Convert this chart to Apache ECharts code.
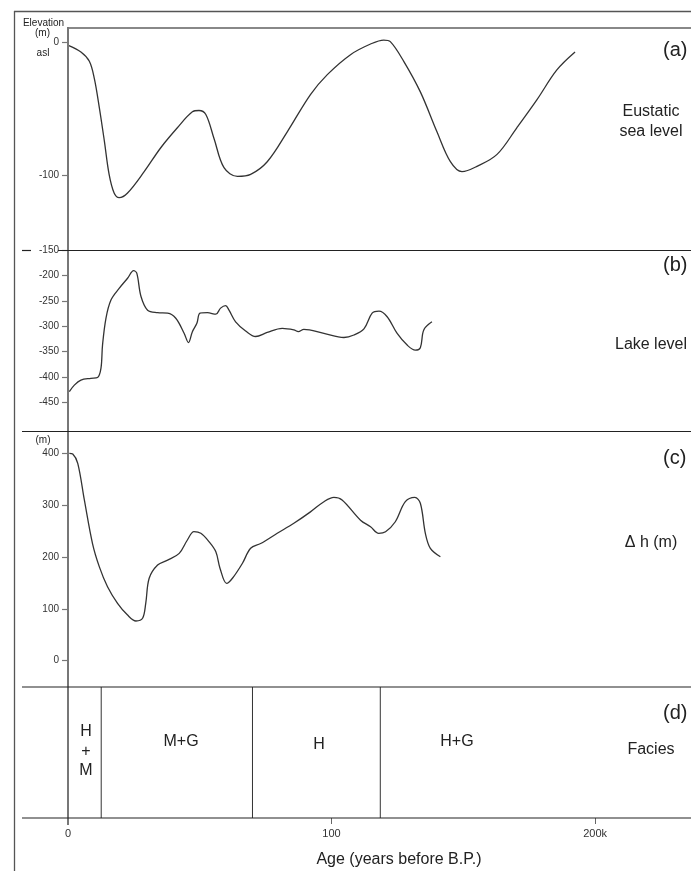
<!DOCTYPE html>
<html>
<head>
<meta charset="utf-8">
<script src="https://cdn.jsdelivr.net/npm/echarts@6/dist/echarts.min.js"></script>
<style>
html,body{margin:0;padding:0;background:#fff;}
#c{width:691px;height:871px;}
</style>
</head>
<body>
<div id="c"></div>
<script>
// ---- Data (age in thousand years before present) ----
const seaAge = [0.1, 4.9, 8.1, 10, 11.9, 13.8, 15.6, 17.5, 19.4, 22.6, 28.9, 35.2, 41.5, 47.2, 49.7, 52.3, 55.4, 59.2, 64.3, 69.3, 75.6, 83.2, 92, 98.4, 107.2, 114.8, 119.8, 122.3, 127.4, 133.7, 140, 145.1, 149.5, 155.2, 162.8, 170.3, 177.9, 185.5, 192.4];
const seaLevel = [-2, -7, -14, -27, -49, -74, -99, -113, -116.5, -113, -97, -79, -64, -52, -51, -54, -72, -94, -100.5, -99, -89.5, -67, -39, -24, -9, -1, 2, 0.8, -14, -37, -67, -89.5, -97, -93, -84, -64, -43, -20.5, -7];

const lakeAge = [0.5, 2.4, 4.9, 8.7, 11.2, 12.5, 13.1, 14.4, 16.3, 19.4, 22.6, 24.9, 26.1, 27.7, 30.2, 34, 37.8, 40.9, 44.1, 45.7, 47.2, 48.9, 50.1, 52.9, 56.1, 57.9, 59.8, 61.1, 63.6, 67.4, 71.2, 75.6, 81.3, 85.7, 87.4, 89.5, 97.1, 104.7, 108.5, 112.3, 115.4, 118, 121.1, 124.9, 128.7, 131.8, 133.7, 135, 138.1];
const lakeLevel = [-429, -416, -406, -402.6, -401, -383, -337, -284, -248, -225, -205, -190, -195, -241, -268, -273, -274, -284, -314, -332, -310.5, -294, -274, -273, -276, -264, -259, -268, -291, -309, -320, -312, -304, -307, -310.5, -306, -314, -322, -317, -305, -274, -270, -281, -314, -337, -347, -342, -307, -291];

const dhAge = [0.5, 1.8, 3.7, 6.2, 9.3, 11.9, 15, 18.8, 22.6, 25.8, 28.3, 29.5, 30.8, 34, 37.8, 42.2, 45.3, 47.8, 50.4, 53.5, 56.1, 57.7, 60.2, 62.4, 66.2, 69.3, 73.1, 79.4, 85.7, 92, 97.1, 100.9, 104, 111, 114.8, 117.9, 120.5, 124.2, 128, 131.6, 133.7, 135.6, 137.5, 141.3];
const dhValue = [400, 398.6, 380.7, 310, 226, 181, 142.7, 110.7, 88, 76.6, 81.8, 110.7, 159, 184.6, 194, 207, 232.8, 248.8, 245.7, 229.5, 210, 178, 149, 159, 188, 216.8, 226, 245.7, 265, 287, 306.7, 315, 310, 271, 258.4, 245.7, 248.8, 268, 306.7, 315, 303.6, 245.7, 216.8, 200.6];

const faciesBounds = [12.6, 70, 118.5];
const faciesNames = ['H\n+\nM', 'M+G', 'H', 'H+G'];
const faciesLabelAge = [6.8, 42.9, 95.3, 147.6];

const seaTicks = [0, -100];
const lakeTicks = [-150, -200, -250, -300, -350, -400, -450];
const dhTicks = [0, 100, 200, 300, 400];
const ageTicks = [0, 100, 200];
const ageTickLabels = ['0', '100', '200k'];

// ---- Chart ----
const FONT = "'Liberation Sans', Arial, sans-serif";
const chart = echarts.init(document.getElementById('c'), null, {renderer: 'canvas'});

const zip = (a, b) => a.map((v, i) => [v, b[i]]);

const L = 68, XMAX = 236.4;
const grids = [
  {left: L, right: 0, top: 28, height: 222},
  {left: L, right: 0, top: 250, height: 182},
  {left: L, right: 0, top: 432, height: 255},
  {left: L, right: 0, top: 687, height: 131}
];

function xAx(i, show) {
  return {
    type: 'value', gridIndex: i, min: 0, max: XMAX, show: show,
    splitLine: {show: false},
    axisLine: {show: false},
    axisTick: {show: show, customValues: ageTicks, length: 6, lineStyle: {color: '#666', width: 1}},
    axisLabel: {show: show, customValues: ageTicks, margin: 10, fontSize: 11, color: '#333', fontFamily: FONT,
      formatter: v => ageTickLabels[ageTicks.indexOf(v)] || ''}
  };
}
function yAx(i, min, max, ticks) {
  return {
    type: 'value', gridIndex: i, min: min, max: max,
    splitLine: {show: false},
    axisLine: {show: false},
    axisTick: {show: !!ticks, customValues: ticks || [], length: 6, lineStyle: {color: '#777', width: 1.2}},
    axisLabel: {show: !!ticks, customValues: ticks || [], margin: 9, fontSize: 10, color: '#333', fontFamily: FONT}
  };
}

const curveStyle = {color: '#333', width: 1.3};

function txt(text, x, y, size, align, extra) {
  return Object.assign({
    type: 'text', z: 50,
    style: {text: text, x: x, y: y, font: size + 'px ' + FONT, fill: '#222',
      align: align || 'center', verticalAlign: 'middle',
      textAlign: align || 'center', textVerticalAlign: 'middle'}
  }, extra || {});
}
function ln(x1, y1, x2, y2, color, w) {
  return {type: 'line', z: 40, silent: true,
    shape: {x1: x1, y1: y1, x2: x2, y2: y2},
    style: {stroke: color, lineWidth: w}};
}

const option = {
  backgroundColor: '#fff',
  animation: false,
  grid: grids,
  xAxis: [xAx(0, false), xAx(1, false), xAx(2, false), xAx(3, true)],
  yAxis: [
    yAx(0, -155.9, 11.05, seaTicks),
    yAx(1, -508.6, -149.2, lakeTicks),
    yAx(2, -50.7, 441.1, dhTicks),
    yAx(3, 0, 1, null)
  ],
  series: [
    {type: 'line', xAxisIndex: 0, yAxisIndex: 0, data: zip(seaAge, seaLevel), smooth: 0.35, showSymbol: false, lineStyle: curveStyle},
    {type: 'line', xAxisIndex: 1, yAxisIndex: 1, data: zip(lakeAge, lakeLevel), smooth: 0.35, showSymbol: false, lineStyle: curveStyle},
    {type: 'line', xAxisIndex: 2, yAxisIndex: 2, data: zip(dhAge, dhValue), smooth: 0.35, showSymbol: false, lineStyle: curveStyle},
    {
      type: 'custom', xAxisIndex: 3, yAxisIndex: 3,
      data: faciesBounds.map(v => [v]),
      renderItem: (params, api) => {
        const p0 = api.coord([api.value(0), 0]);
        const p1 = api.coord([api.value(0), 1]);
        return {type: 'line', shape: {x1: p0[0], y1: p0[1], x2: p1[0], y2: p1[1]},
          style: {stroke: '#333', lineWidth: 1}};
      }
    },
    {
      type: 'custom', xAxisIndex: 3, yAxisIndex: 3,
      data: faciesLabelAge.map((a, i) => [a, i]),
      renderItem: (params, api) => {
        const i = api.value(1);
        const p = api.coord([api.value(0), i === 0 ? 0.51 : (i === 2 ? 0.557 : 0.58)]);
        return {type: 'text', x: p[0], y: p[1],
          style: {text: faciesNames[i], font: '16px ' + FONT, fill: '#222',
            align: 'center', verticalAlign: 'middle', lineHeight: 19.5}};
      }
    }
  ],
  graphic: [
    // outer frame
    ln(14.5, 11, 14.5, 871, '#555', 1.3),
    ln(14, 11.5, 691, 11.5, '#555', 1.3),
    // inner top line and vertical axis
    ln(68, 28, 691, 28, '#888', 2),
    ln(68, 27, 68, 825, '#777', 2),
    // panel separators
    ln(22, 250.5, 31, 250.5, '#222', 1.2),
    ln(58, 250.5, 691, 250.5, '#222', 1.2),
    ln(22, 431.5, 691, 431.5, '#222', 1.2),
    ln(22, 687, 691, 687, '#222', 1.2),
    ln(22, 818, 691, 818, '#222', 1.2),
    // left labels
    txt('Elevation', 43.5, 23, 10),
    txt('(m)', 42.5, 33, 10),
    txt('asl', 43, 53, 10),
    txt('(m)', 43, 440, 10),
    // panel tags
    txt('(a)', 663, 50, 20, 'left'),
    txt('(b)', 663, 265, 20, 'left'),
    txt('(c)', 663, 458, 20, 'left'),
    txt('(d)', 663, 713, 20, 'left'),
    // right titles
    txt('Eustatic', 651, 112, 16),
    txt('sea level', 651, 132, 16),
    txt('Lake level', 651, 345, 16),
    txt('\u0394 h (m)', 651, 543, 16),
    txt('Facies', 651, 750, 16),
    // x axis title
    txt('Age (years before B.P.)', 399, 860, 16)
  ]
};
chart.setOption(option);
</script>
</body>
</html>
